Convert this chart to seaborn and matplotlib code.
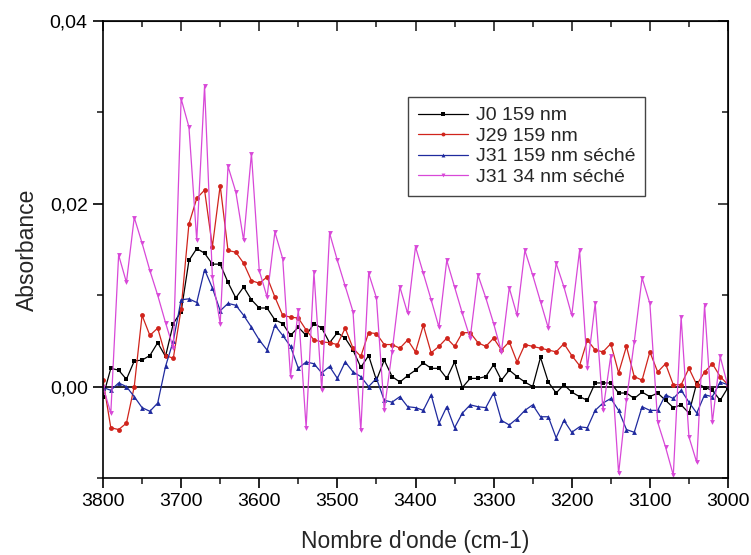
"""
FTIR absorbance spectra (3800-3000 cm-1) - four samples
"""

import numpy as np
import pandas as pd
import matplotlib
matplotlib.use('Agg')
import matplotlib.pyplot as plt
import seaborn as sns
from matplotlib.ticker import MultipleLocator, FuncFormatter

# wavenumbers, one point every 10 cm-1
wavenumber = list(range(3800, 2999, -10))

# absorbance values in units of 1e-3
j0_159 = [-1.1, 2.0, 1.8, 0.8, 2.8, 2.9, 3.4, 4.8, 3.3, 6.9,
          8.2, 13.8, 15.1, 14.6, 13.4, 13.4, 11.4, 9.7, 10.9, 9.5,
          8.6, 8.6, 7.3, 6.9, 5.6, 6.5, 5.6, 6.9, 6.4, 4.8,
          5.9, 5.3, 4.0, 2.1, 3.4, 0.7, 2.9, 1.1, 0.5, 1.2,
          1.8, 2.6, 2.0, 2.0, 0.9, 2.7, -0.1, 0.9, 0.9, 1.1,
          2.4, 0.7, 1.8, 1.1, 0.5, 0.0, 3.2, 0.5, -0.7, 0.2,
          -0.6, -1.1, -1.5, 0.4, 0.4, 0.4, -0.7, -0.7, -1.3, -0.6,
          -1.1, -0.7, -1.5, -2.3, -2.0, -2.9, 0.4, -0.1, -0.4, -1.5,
          -0.1]

j29_159 = [0.7, -4.5, -4.7, -4.0, 0.0, 7.8, 5.6, 6.4, 3.4, 3.1,
           8.5, 17.8, 20.6, 21.5, 15.3, 22.0, 14.9, 14.7, 13.5, 11.6,
           11.3, 12.0, 9.8, 7.8, 7.6, 7.5, 6.2, 5.1, 4.9, 4.8,
           4.6, 6.4, 4.2, 3.3, 5.9, 5.8, 4.6, 4.6, 4.2, 5.1,
           3.8, 6.7, 3.7, 4.4, 5.3, 4.4, 5.9, 5.9, 4.8, 4.4,
           5.3, 4.0, 4.9, 2.7, 4.6, 4.4, 4.2, 4.0, 3.8, 4.7,
           3.4, 2.3, 5.1, 4.0, 3.8, 4.7, 1.5, 4.4, 1.1, 0.7,
           3.8, 1.6, 2.5, 0.2, 0.2, 2.0, 0.2, 1.6, 2.5, 1.1,
           0.2]

j31_159_seche = [-0.1, -0.4, 0.4, 0.0, -1.1, -2.3, -2.7, -1.8, 2.2, 5.0,
                 9.5, 9.6, 9.2, 12.8, 10.8, 8.3, 9.1, 8.9, 7.8, 6.5,
                 5.1, 4.0, 6.7, 5.6, 4.4, 2.0, 2.7, 2.5, 1.5, 2.2,
                 0.9, 2.7, 1.6, 1.1, 0.0, 0.9, -1.5, -1.7, -1.1, -2.2,
                 -2.3, -2.6, -0.9, -4.0, -2.2, -4.5, -2.9, -2.0, -2.2, -2.3,
                 -0.7, -3.7, -4.2, -3.5, -2.6, -2.0, -3.3, -3.3, -5.6, -3.7,
                 -5.0, -4.4, -4.5, -2.6, -1.8, -1.3, -2.6, -4.7, -5.0, -2.2,
                 -2.6, -2.6, -0.9, -1.3, -0.4, -1.7, -2.9, -0.9, -1.1, 0.5,
                 0.2]

j31_34_seche = [0.0, -2.9, 14.4, 11.4, 18.5, 15.7, 12.7, 10.0, 7.0, 4.2,
                31.5, 28.4, 16.0, 32.9, 12.0, 6.9, 24.1, 21.3, 16.0, 25.5,
                12.7, 9.8, 16.9, 14.0, 1.1, 8.4, -4.5, 12.5, -0.4, 16.8,
                13.8, 11.0, 8.2, -4.8, 12.4, 9.7, -2.6, 3.8, 10.9, 8.0,
                15.3, 12.4, 9.5, 6.5, 13.8, 10.9, 8.0, 5.3, 12.2, 9.7,
                6.9, 3.8, 10.8, 7.8, 14.9, 12.2, 9.3, 6.4, 13.5, 10.9,
                7.8, 14.9, 2.0, 9.1, -2.6, 3.4, -9.5, -1.5, 4.9, 11.9,
                9.1, -3.9, -6.6, -9.7, 7.6, -5.5, -8.3, 8.9, -3.9, 3.3,
                0.0]

labels = ['J0 159 nm', 'J29 159 nm', 'J31 159 nm séché', 'J31 34 nm séché']
colors = ['#000000', '#D0241C', '#1F2A9E', '#D848D8']
markers = ['s', 'o', '^', 'v']

series = [j0_159, j29_159, j31_159_seche, j31_34_seche]
frames = []
for lab, vals in zip(labels, series):
    frames.append(pd.DataFrame({'wn': wavenumber,
                                'absorbance': np.array(vals) / 1000.0,
                                'sample': lab}))
df = pd.concat(frames, ignore_index=True)

sns.set_style('ticks')
plt.rcParams['font.family'] = ['Liberation Sans', 'DejaVu Sans']

fig = plt.figure(figsize=(7.51, 5.55), dpi=100)
ax = fig.add_axes([103 / 751, 1 - 478 / 555, 625 / 751, 457 / 555])

sns.lineplot(data=df, x='wn', y='absorbance', hue='sample', style='sample',
             hue_order=labels, style_order=labels,
             palette=dict(zip(labels, colors)),
             markers=dict(zip(labels, markers)), dashes=False,
             markersize=3.5, markeredgewidth=0, linewidth=0.9,
             estimator=None, sort=False, ax=ax)

ax.axhline(0, color='black', linewidth=1.2, zorder=1)

ax.set_xlim(3800, 3000)
ax.set_ylim(-0.01, 0.04)
ax.xaxis.set_major_locator(MultipleLocator(100))
ax.xaxis.set_minor_locator(MultipleLocator(50))
ax.yaxis.set_major_locator(MultipleLocator(0.02))
ax.yaxis.set_minor_locator(MultipleLocator(0.01))
ax.yaxis.set_major_formatter(FuncFormatter(lambda v, p: f'{v:.2f}'.replace('.', ',')))

ax.set_xlabel("Nombre d'onde (cm-1)", fontsize=16.5, labelpad=14)
ax.set_ylabel('Absorbance', fontsize=16.5, labelpad=8)

for sp in ax.spines.values():
    sp.set_linewidth(1.2)
    sp.set_color('black')

ax.tick_params(which='major', direction='out', length=7, width=1.2,
               labelsize=14, pad=4, colors='black')
ax.tick_params(which='minor', direction='out', length=4, width=1.2)

# inward ticks on top and right
top = ax.secondary_xaxis('top')
top.xaxis.set_major_locator(MultipleLocator(100))
top.xaxis.set_minor_locator(MultipleLocator(50))
top.tick_params(which='major', direction='in', length=7, width=1.2, labeltop=False)
top.tick_params(which='minor', direction='in', length=4, width=1.2)
right = ax.secondary_yaxis('right')
right.yaxis.set_major_locator(MultipleLocator(0.02))
right.yaxis.set_minor_locator(MultipleLocator(0.01))
right.tick_params(which='major', direction='in', length=7, width=1.2, labelright=False)
right.tick_params(which='minor', direction='in', length=4, width=1.2)

leg = ax.legend(loc='upper left', bbox_to_anchor=(408 / 751, 1 - 97 / 555),
                bbox_transform=fig.transFigure, fontsize=14, frameon=True,
                fancybox=False, edgecolor='#444444', framealpha=1,
                handlelength=2.6, labelspacing=0.15, borderpad=0.5,
                borderaxespad=0, handletextpad=0.4, markerscale=0.8)
leg.get_frame().set_linewidth(1.0)

fig.savefig('out.png', dpi=100)
plt.close(fig)
